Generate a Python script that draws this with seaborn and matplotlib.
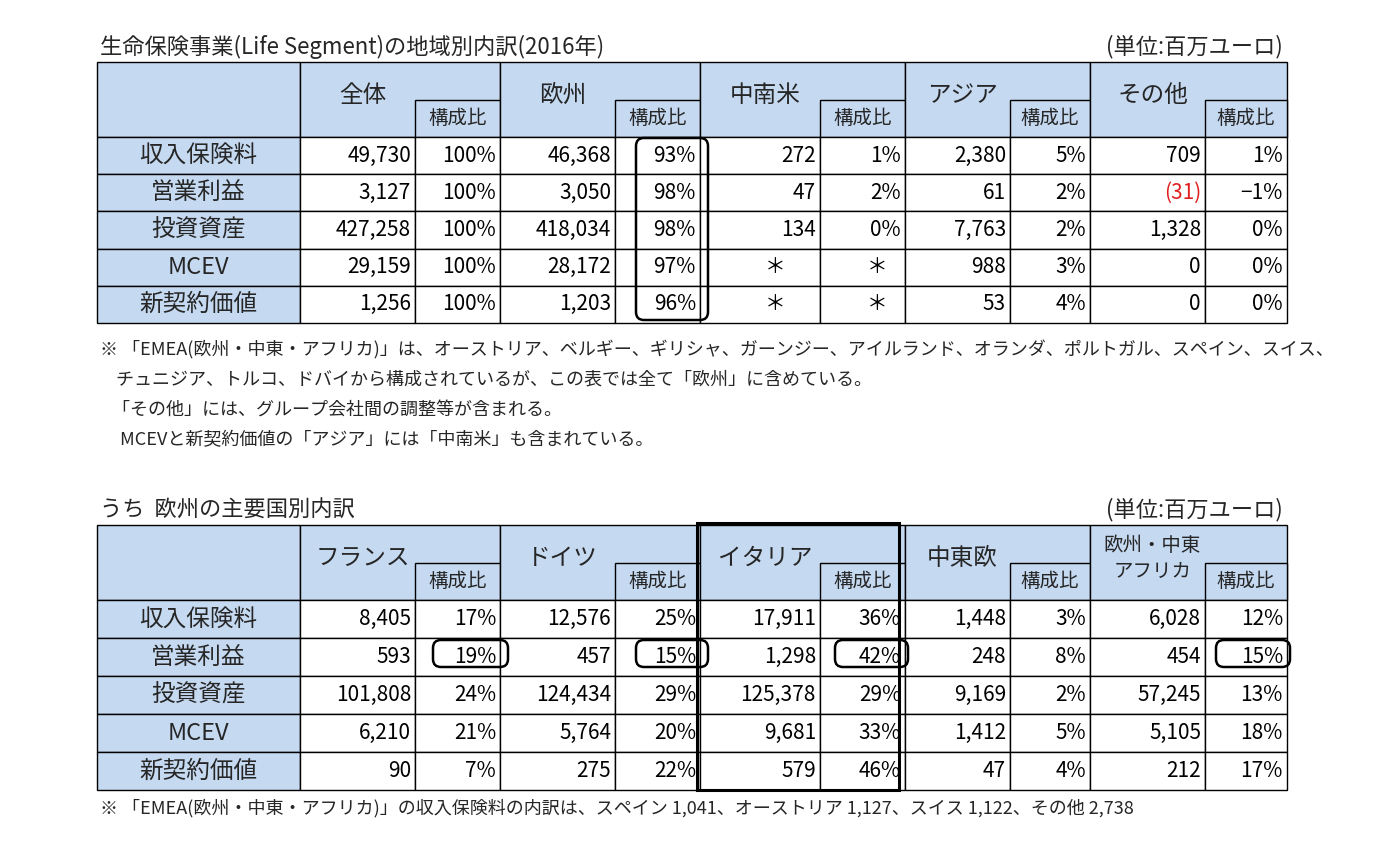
import matplotlib.pyplot as plt
import matplotlib.patches as mpatches
import seaborn as sns

sns.set_theme(style="white")
plt.rcParams["font.family"] = "Noto Sans CJK JP"

# %% Data
row_labels = ["収入保険料", "営業利益", "投資資産", "MCEV", "新契約価値"]

top_groups = ["全体", "欧州", "中南米", "アジア", "その他"]
top_values = [
    ["49,730", "100%", "46,368", "93%", "272", "1%", "2,380", "5%", "709", "1%"],
    ["3,127", "100%", "3,050", "98%", "47", "2%", "61", "2%", "(31)", "−1%"],
    ["427,258", "100%", "418,034", "98%", "134", "0%", "7,763", "2%", "1,328", "0%"],
    ["29,159", "100%", "28,172", "97%", "＊", "＊", "988", "3%", "0", "0%"],
    ["1,256", "100%", "1,203", "96%", "＊", "＊", "53", "4%", "0", "0%"],
]

bot_groups = ["フランス", "ドイツ", "イタリア", "中東欧", "欧州・中東\nアフリカ"]
bot_values = [
    ["8,405", "17%", "12,576", "25%", "17,911", "36%", "1,448", "3%", "6,028", "12%"],
    ["593", "19%", "457", "15%", "1,298", "42%", "248", "8%", "454", "15%"],
    ["101,808", "24%", "124,434", "29%", "125,378", "29%", "9,169", "2%", "57,245", "13%"],
    ["6,210", "21%", "5,764", "20%", "9,681", "33%", "1,412", "5%", "5,105", "18%"],
    ["90", "7%", "275", "22%", "579", "46%", "47", "4%", "212", "17%"],
]

top_title = "生命保険事業(Life Segment)の地域別内訳(2016年)"
bot_title = "うち  欧州の主要国別内訳"
unit = "(単位:百万ユーロ)"
top_notes = [
    "※ 「EMEA(欧州・中東・アフリカ)」は、オーストリア、ベルギー、ギリシャ、ガーンジー、アイルランド、オランダ、ポルトガル、スペイン、スイス、",
    "    チュニジア、トルコ、ドバイから構成されているが、この表では全て「欧州」に含めている。",
    "   「その他」には、グループ会社間の調整等が含まれる。",
    "     MCEVと新契約価値の「アジア」には「中南米」も含まれている。",
]
bot_note = "※ 「EMEA(欧州・中東・アフリカ)」の収入保険料の内訳は、スペイン 1,041、オーストリア 1,127、スイス 1,122、その他 2,738"

# %% Layout
col_x = [97, 300, 415, 500, 615, 700, 820, 905, 1010, 1090, 1205, 1287]
BLUE = "#C5D9F1"

fig = plt.figure(figsize=(13.95, 8.43), dpi=100)
ax = fig.add_axes([0, 0, 1, 1])
ax.set_xlim(0, 1395)
ax.set_ylim(843, 0)
ax.axis("off")


def rect(x0, y0, x1, y1, fc="white", lw=1.0):
    ax.add_patch(mpatches.Rectangle((x0, y0), x1 - x0, y1 - y0, fc=fc, ec="black", lw=lw))


def draw_table(y_top, y_head, row_h, groups, values, red=None, group_fs=17):
    rect(col_x[0], y_top, col_x[1], y_head, BLUE)
    sub_top = y_top + (y_head - y_top) * 0.5
    for g, name in enumerate(groups):
        xa, xb, xc = col_x[1 + 2 * g], col_x[2 + 2 * g], col_x[3 + 2 * g]
        rect(xa, y_top, xc, y_head, BLUE)
        rect(xb, sub_top, xc, y_head, BLUE)
        ax.text((xa + xb) / 2 + 5, (y_top + y_head) / 2 - 4, name, ha="center", va="center",
                fontsize=group_fs if "\n" not in name else 14, linespacing=1.3)
        ax.text((xb + xc) / 2, (sub_top + y_head) / 2, "構成比", ha="center", va="center", fontsize=14)
    for r, lab in enumerate(row_labels):
        y0 = y_head + r * row_h
        y1 = y0 + row_h
        rect(col_x[0], y0, col_x[1], y1, BLUE)
        ax.text((col_x[0] + col_x[1]) / 2, (y0 + y1) / 2, lab, ha="center", va="center", fontsize=17)
        for c, v in enumerate(values[r]):
            xa, xb = col_x[1 + c], col_x[2 + c]
            rect(xa, y0, xb, y1)
            star = v == "＊"
            color = "#E02020" if red == (r, c) else "black"
            ax.text((xa + xb) / 2 + 15 if star else xb - 4, (y0 + y1) / 2, v,
                    ha="center" if star else "right", va="center", fontsize=15, color=color)


def rbox(x0, y0, x1, y1):
    ax.add_patch(mpatches.FancyBboxPatch((x0, y0), x1 - x0, y1 - y0,
                 boxstyle="round,pad=0,rounding_size=8", fc="none", ec="black", lw=1.8))


# Top table
ax.text(100, 47, top_title, fontsize=16, va="center")
ax.text(1283, 47, unit, fontsize=16, va="center", ha="right")
draw_table(62, 137, 37.2, top_groups, top_values, red=(1, 8))
rbox(636, 138, 708, 320)
for i, line in enumerate(top_notes):
    ax.text(100, 350 + i * 30, line, fontsize=13, va="center")

# Bottom table
ax.text(100, 510, bot_title, fontsize=16, va="center")
ax.text(1283, 510, unit, fontsize=16, va="center", ha="right")
draw_table(525, 600, 38, bot_groups, bot_values)
ax.add_patch(mpatches.Rectangle((697, 523), 202, 267, fc="none", ec="black", lw=2.2))
for x0, x1 in [(433, 508), (636, 708), (835, 908), (1216, 1290)]:
    rbox(x0, 640, x1, 667)
ax.text(100, 808, bot_note, fontsize=13, va="center")

fig.savefig("out.png", dpi=100)
